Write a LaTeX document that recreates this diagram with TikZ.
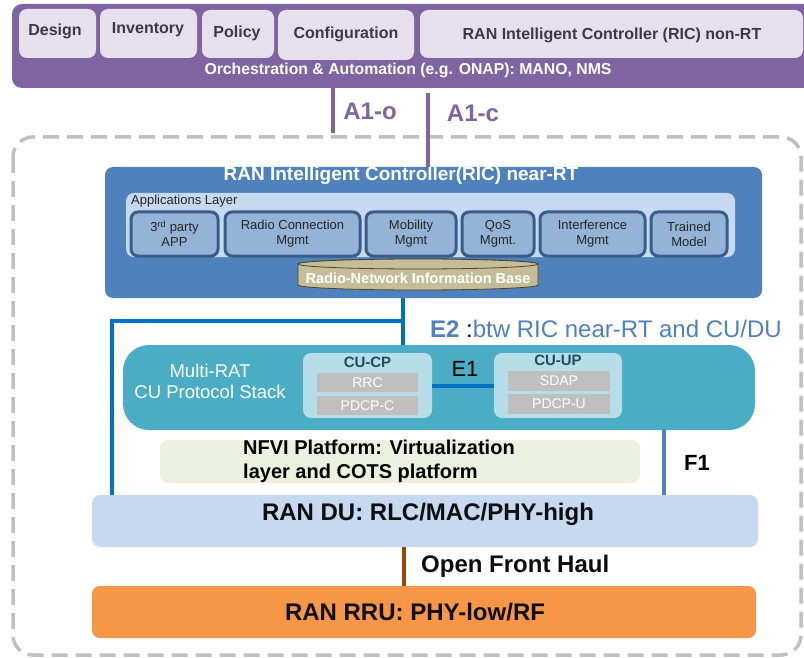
\documentclass[tikz,border=0pt]{standalone}
\usepackage{fontspec}
\setmainfont{Liberation Sans}
\usetikzlibrary{fit}

\definecolor{orchpurple}{HTML}{8064A2}
\definecolor{lavender}{HTML}{E6E0EC}
\definecolor{lavtext}{HTML}{3D3844}
\definecolor{frame}{HTML}{BFBFBF}
\definecolor{ricblue}{HTML}{4F81BD}
\definecolor{applayer}{HTML}{C6D9F1}
\definecolor{appfill}{HTML}{95B3D7}
\definecolor{appedge}{HTML}{385D8A}
\definecolor{dbfill}{HTML}{C4BD97}
\definecolor{dbedge}{HTML}{494429}
\definecolor{e2blue}{HTML}{0070C0}
\definecolor{cuteal}{HTML}{4BACC6}
\definecolor{cupanel}{HTML}{B7DEE8}
\definecolor{layergray}{HTML}{BFBFBF}
\definecolor{nfvigreen}{HTML}{EBF1DE}
\definecolor{dublue}{HTML}{C6D9F1}
\definecolor{fhbrown}{HTML}{984807}
\definecolor{rruorange}{HTML}{F79646}
\definecolor{cutext}{HTML}{1F4E5A}

\tikzset{
  fitbox/.style={inner sep=0pt, outer sep=0pt},
  lavbox/.style={fitbox, fill=lavender, rounded corners=8pt},
  lavtxt/.style={text=lavtext, font=\bfseries\fontsize{16}{19}\selectfont},
  appbox/.style={fitbox, fill=appfill, draw=appedge, line width=3pt, rounded corners=7pt},
  apptxt/.style={align=center, text=black!85, font=\fontsize{13}{15}\selectfont},
  graybox/.style={fitbox, fill=layergray},
  graytxt/.style={text=white, font=\fontsize{14}{16}\selectfont},
  cupanelbox/.style={fitbox, fill=cupanel, rounded corners=8pt},
  wideband/.style={fitbox, rounded corners=8pt},
  bandtxt/.style={text=black!95, font=\bfseries\fontsize{24}{28}\selectfont},
  a1line/.style={draw=orchpurple, line width=4pt},
  e2line/.style={draw=e2blue, line width=4pt},
}

\begin{document}
\begin{tikzpicture}[x=1pt,y=-1pt]
\useasboundingbox (0,0) rectangle (804,658);

% dashed enclosure of the RAN side
\draw[frame, line width=3.5pt, dash pattern=on 16pt off 8pt, rounded corners=20pt]
  (13,137) rectangle (801,655);

% orchestration & automation layer
\node[fitbox, fill=orchpurple, rounded corners=10pt, fit={(12,4) (815,88)}] (orch) {};
\node[lavbox, fit={(19,9) (96,58)}] (design) {};
\node[lavbox, fit={(100,9) (197,58)}] (inventory) {};
\node[lavbox, fit={(202,10) (274,58)}] (policy) {};
\node[lavbox, fit={(278,10) (414,60)}] (config) {};
\node[lavbox, fit={(420,10) (803,58)}] (ricnonrt) {};
\node[lavtxt] (designtxt) at (55,31) {Design};
\node[lavtxt] (inventorytxt) at (148,30) {Inventory};
\node[lavtxt] (policytxt) at (237,33) {Policy};
\node[lavtxt] (configtxt) at (346,34) {Configuration};
\node[lavtxt] (ricnonrttxt) at (612,35) {RAN Intelligent Controller (RIC) non-RT};
\node[text=white, font=\bfseries\fontsize{15.8}{19}\selectfont] (orchlabel) at (408,70)
  {Orchestration \& Automation (e.g. ONAP): MANO, NMS};

% near-RT RIC
\node[fitbox, fill=ricblue, rounded corners=8pt, fit={(105,167) (762,298)}] (ric) {};
\node[text=white, font=\bfseries\fontsize{19}{22}\selectfont] (rictitle) at (401,176)
  {RAN Intelligent Controller(RIC) near-RT};
\node[fitbox, fill=applayer, rounded corners=8pt, fit={(126,193) (735,257)}] (apps) {};
\node[anchor=west, inner sep=0pt, text=black!85, font=\fontsize{13}{15}\selectfont] (appstitle) at (131,201)
  {Applications Layer};
\node[appbox, fit={(131,212) (218,256)}] (app1) {};
\node[appbox, fit={(225,212) (360,256)}] (app2) {};
\node[appbox, fit={(366,212) (456,256)}] (app3) {};
\node[appbox, fit={(462,212) (534,256)}] (app4) {};
\node[appbox, fit={(540,212) (645,256)}] (app5) {};
\node[appbox, fit={(651,212) (727,256)}] (app6) {};
\node[apptxt] (app1txt) at (app1.center) {3\textsuperscript{rd} party\\APP};
\node[apptxt] (app2txt) at (app2.center) {Radio Connection\\Mgmt};
\node[apptxt] (app3txt) at (app3.center) {Mobility\\Mgmt};
\node[apptxt] (app4txt) at (app4.center) {QoS\\Mgmt.};
\node[apptxt] (app5txt) at (app5.center) {Interference\\Mgmt};
\node[apptxt] (app6txt) at (app6.center) {Trained\\Model};

% radio-network information base (cylinder)
\filldraw[fill=dbfill, draw=dbedge, line width=0.8pt]
  (298,264) -- (298,285) arc[start angle=180, end angle=360, x radius=120pt, y radius=5pt]
  -- (538,264) arc[start angle=0, end angle=180, x radius=120pt, y radius=5pt] -- cycle;
\filldraw[fill=dbfill, draw=dbedge, line width=0.8pt]
  (418,264) ellipse[x radius=120pt, y radius=5pt];
\node[text=white, font=\bfseries\fontsize{14.5}{16}\selectfont] (rnib) at (418,278)
  {Radio-Network Information Base};

% CU
\node[fitbox, fill=cuteal, rounded corners=26pt, fit={(123,345) (755,430)}] (cu) {};
\node[text=white, align=center, font=\fontsize{18.5}{21}\selectfont] (culabel) at (210,381)
  {Multi-RAT\\CU Protocol Stack};
\node[cupanelbox, fit={(303,353) (432,418)}] (cucp) {};
\node[text=cutext, font=\bfseries\fontsize{15}{17}\selectfont] (cucplabel) at (367.5,362) {CU-CP};
\node[graybox, fit={(317,373) (418,392)}] (rrc) {};
\node[graybox, fit={(317,396) (418,415)}] (pdcpc) {};
\node[graytxt] (rrctxt) at (rrc.center) {RRC};
\node[graytxt] (pdcpctxt) at (pdcpc.center) {PDCP-C};
\node[cupanelbox, fit={(494,353) (622,418)}] (cuup) {};
\node[text=cutext, font=\bfseries\fontsize{15}{17}\selectfont] (cuuplabel) at (558,360) {CU-UP};
\node[graybox, fit={(508,371) (610,391)}] (sdap) {};
\node[graybox, fit={(508,394) (610,414)}] (pdcpu) {};
\node[graytxt] (sdaptxt) at (sdap.center) {SDAP};
\node[graytxt] (pdcputxt) at (pdcpu.center) {PDCP-U};

% NFVI platform
\node[fitbox, fill=nfvigreen, rounded corners=8pt, fit={(160,440) (640,483)}] (nfvi) {};
\node[anchor=west, inner sep=0pt, align=left, text=black,
  font=\bfseries\fontsize{20}{24}\selectfont] (nfvilabel) at (243,461)
  {NFVI Platform: Virtualization\\layer and COTS platform};

% DU and RRU
\node[wideband, fill=dublue, fit={(92,495) (758,547)}] (du) {};
\node[bandtxt] (dutxt) at (428,514) {RAN DU: RLC/MAC/PHY-high};
\node[wideband, fill=rruorange, fit={(92,586) (756,638)}] (rru) {};
\node[bandtxt] (rrutxt) at (415,612) {RAN RRU: PHY-low/RF};

% interface anchors
\coordinate (xa1o) at (333,0);
\coordinate (a1oend) at (333,133);
\coordinate (a1cstart) at (428,93);
\coordinate (xe2) at (403,0);
\coordinate (e2j) at (403,321);
\coordinate (e2l) at (112,321);
\coordinate (xf1) at (664,0);
\coordinate (xfh) at (404,0);

% A1 interfaces
\draw[a1line] (orch.south -| xa1o) -- (a1oend);
\draw[a1line] (a1cstart) -- (ric.north -| a1cstart);
\node[text=orchpurple, font=\bfseries\fontsize{24}{27}\selectfont] (a1olabel) at (370,111) {A1-o};
\node[text=orchpurple, font=\bfseries\fontsize{24}{27}\selectfont] (a1clabel) at (473,113) {A1-c};

% E2 interface
\draw[e2line] (ric.south -| xe2) -- (e2j) -- (e2l) -- (du.north -| e2l);
\draw[e2line] (e2j) -- (cu.north -| xe2);
\node[anchor=west, inner sep=0pt, text=ricblue, font=\fontsize{24}{27}\selectfont] (e2label) at (430,329)
  {\textbf{E2} {\color{black}:}btw RIC near-RT and CU/DU};

% E1 interface
\draw[e2line] (cucp.east) -- (cuup.west);
\node[text=black, font=\fontsize{22}{25}\selectfont] (e1label) at (465,369) {E1};

% F1 interface
\draw[draw=ricblue, line width=4pt] (cu.south -| xf1) -- (du.north -| xf1);
\node[text=black, font=\bfseries\fontsize{22}{25}\selectfont] (f1label) at (697,463) {F1};

% open fronthaul
\draw[draw=fhbrown, line width=4pt] (du.south -| xfh) -- (rru.north -| xfh);
\node[anchor=west, inner sep=0pt, text=black!95, font=\bfseries\fontsize{24}{27}\selectfont] (fhlabel) at (421,566)
  {Open Front Haul};
\end{tikzpicture}
\end{document}
